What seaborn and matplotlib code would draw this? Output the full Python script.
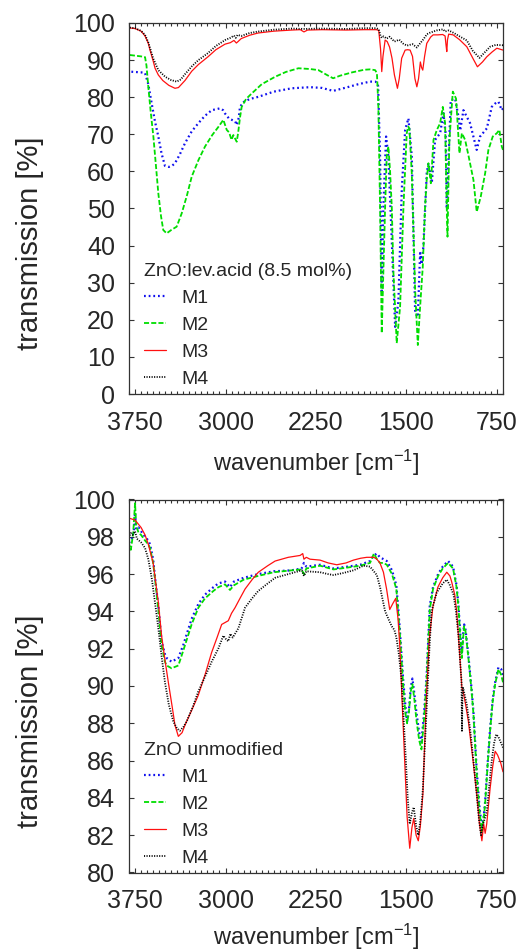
import numpy as np
import pandas as pd
import matplotlib
matplotlib.use("Agg")
import matplotlib.pyplot as plt
from matplotlib.ticker import MultipleLocator
import seaborn as sns

# ---------------- data ----------------
labels = ["M1", "M2", "M3", "M4"]
xticks = [3750, 3000, 2250, 1500, 750]
top_title = "ZnO:lev.acid (8.5 mol%)"
bot_title = "ZnO unmodified"

# top panel: ZnO:lev.acid
top_m1_wn = [3800, 3750, 3700, 3667, 3640, 3612, 3585, 3557, 3530, 3502, 3470, 3440, 3419, 3380, 3336, 3280, 3225, 3170, 3114, 3045, 3020, 3004, 2970, 2948, 2920, 2907, 2890, 2880, 2850, 2800, 2728, 2600, 2451, 2300, 2200, 2108, 2000, 1900, 1802, 1760, 1746, 1735, 1719, 1705, 1692, 1669, 1650, 1622, 1594, 1567, 1539, 1511, 1484, 1456, 1428, 1406, 1387, 1375, 1360, 1332, 1318, 1290, 1263, 1221, 1194, 1175, 1166, 1155, 1133, 1097, 1069, 1055, 1028, 1000, 973, 918, 890, 834, 793, 765, 738, 710, 700]
top_m1_t = [86.9, 86.8, 86.7, 86.5, 83.5, 78.3, 73.5, 69.4, 64.8, 61.5, 61.2, 61.6, 62.2, 64.5, 67.6, 70.8, 73.0, 75.0, 76.5, 77.0, 76.5, 75.6, 74.2, 73.9, 73.5, 72.5, 74.5, 77.4, 78.7, 79.5, 80.1, 81.5, 82.4, 82.7, 82.5, 81.7, 82.6, 83.5, 84.2, 84.2, 84.0, 83.0, 64.0, 27.2, 50.0, 69.4, 64.0, 41.5, 18.1, 25.0, 55.0, 71.2, 74.3, 64.0, 21.8, 20.8, 38.0, 35.0, 39.7, 59.6, 62.2, 56.9, 68.5, 70.3, 75.7, 70.0, 50.0, 60.0, 79.2, 79.6, 74.7, 71.0, 76.5, 74.7, 73.0, 65.8, 69.4, 71.6, 77.4, 78.3, 78.8, 76.5, 77.0]

top_m2_wn = [3800, 3750, 3700, 3667, 3655, 3640, 3620, 3598, 3578, 3557, 3535, 3516, 3488, 3450, 3405, 3363, 3320, 3280, 3225, 3170, 3110, 3059, 3018, 2990, 2970, 2950, 2935, 2920, 2907, 2895, 2880, 2866, 2830, 2783, 2700, 2589, 2500, 2396, 2300, 2230, 2160, 2108, 2050, 1950, 1850, 1802, 1760, 1745, 1733, 1719, 1705, 1692, 1677, 1664, 1650, 1636, 1622, 1608, 1581, 1553, 1525, 1498, 1486, 1476, 1456, 1428, 1406, 1387, 1365, 1346, 1332, 1318, 1298, 1276, 1248, 1221, 1199, 1180, 1166, 1160, 1150, 1144, 1116, 1089, 1061, 1041, 1014, 987, 945, 918, 885, 848, 821, 785, 751, 730, 710, 700]
top_m2_t = [91.4, 91.2, 91.0, 90.8, 88.5, 82.8, 76.0, 69.4, 62.0, 54.1, 48.0, 44.2, 43.3, 44.2, 45.1, 48.7, 53.5, 58.6, 63.0, 66.7, 69.8, 72.0, 73.9, 71.2, 70.5, 68.5, 69.8, 68.8, 68.0, 70.5, 74.5, 77.4, 79.5, 81.0, 83.5, 85.5, 86.8, 87.8, 87.6, 87.3, 86.0, 85.1, 85.8, 86.7, 87.4, 87.5, 87.3, 86.5, 77.4, 50.5, 16.4, 32.6, 50.5, 64.0, 66.7, 60.0, 50.5, 32.6, 13.7, 23.5, 50.5, 70.3, 72.1, 71.6, 59.5, 27.8, 13.2, 23.5, 34.3, 50.5, 58.0, 62.2, 56.8, 68.5, 71.2, 73.0, 77.4, 73.0, 50.0, 42.4, 60.0, 68.5, 81.5, 79.6, 64.9, 70.3, 68.5, 64.4, 57.7, 49.1, 53.1, 59.5, 65.8, 69.4, 70.3, 71.2, 66.7, 65.8]

top_m3_wn = [3800, 3750, 3700, 3667, 3640, 3626, 3600, 3584, 3557, 3520, 3470, 3419, 3390, 3336, 3280, 3225, 3145, 3080, 3004, 2960, 2930, 2910, 2896, 2870, 2800, 2730, 2600, 2450, 2380, 2350, 2320, 2200, 2000, 1850, 1750, 1730, 1715, 1705, 1695, 1677, 1660, 1640, 1620, 1600, 1575, 1560, 1540, 1511, 1490, 1470, 1450, 1430, 1414, 1400, 1385, 1375, 1365, 1350, 1332, 1300, 1279, 1240, 1200, 1180, 1172, 1166, 1160, 1150, 1113, 1060, 1000, 950, 912, 870, 834, 790, 751, 700]
top_m3_t = [98.7, 98.5, 97.8, 96.5, 94.5, 92.7, 89.8, 87.8, 86.0, 84.5, 83.2, 82.4, 82.6, 84.5, 87.0, 88.8, 90.9, 92.8, 94.3, 94.7, 95.3, 94.6, 95.0, 95.8, 96.7, 97.3, 97.8, 98.1, 98.2, 97.6, 98.1, 98.2, 98.1, 98.2, 98.2, 98.0, 93.0, 86.9, 91.0, 95.4, 95.0, 93.5, 90.5, 86.0, 82.4, 85.0, 90.5, 92.7, 92.8, 92.7, 91.0, 85.0, 82.8, 85.0, 89.5, 88.0, 87.3, 91.0, 94.5, 96.2, 96.8, 96.8, 96.9, 96.5, 94.0, 92.3, 95.5, 97.0, 96.8, 95.5, 93.6, 90.5, 88.2, 89.5, 90.9, 92.2, 93.2, 92.7]

top_m4_wn = [3800, 3750, 3700, 3667, 3640, 3626, 3600, 3557, 3500, 3450, 3404, 3370, 3336, 3280, 3225, 3145, 3080, 3004, 2960, 2930, 2915, 2900, 2870, 2800, 2730, 2600, 2450, 2350, 2200, 2000, 1850, 1750, 1730, 1715, 1705, 1690, 1664, 1640, 1600, 1560, 1530, 1497, 1450, 1414, 1395, 1360, 1330, 1304, 1250, 1196, 1180, 1170, 1150, 1113, 1060, 1000, 950, 895, 860, 807, 760, 700]
top_m4_t = [98.8, 98.6, 97.9, 96.8, 94.8, 93.3, 90.5, 87.3, 85.5, 84.6, 84.2, 84.8, 86.2, 88.3, 90.0, 91.9, 93.8, 95.4, 96.0, 96.6, 96.0, 96.8, 96.5, 97.3, 97.7, 98.2, 98.5, 98.4, 98.5, 98.4, 98.6, 98.6, 98.3, 96.5, 96.0, 96.4, 95.8, 96.3, 95.0, 95.5, 94.5, 93.9, 94.3, 93.4, 94.2, 95.6, 97.0, 97.4, 98.0, 98.3, 97.7, 97.8, 98.0, 97.4, 96.4, 95.3, 92.5, 90.6, 91.8, 93.6, 94.1, 94.0]

# bottom panel: ZnO unmodified
bot_m1_wn = [3800, 3780, 3760, 3750, 3740, 3720, 3700, 3667, 3640, 3626, 3600, 3584, 3557, 3530, 3502, 3488, 3447, 3391, 3350, 3281, 3225, 3170, 3100, 3059, 3004, 2963, 2930, 2850, 2730, 2600, 2454, 2370, 2350, 2330, 2216, 2105, 1990, 1884, 1802, 1770, 1745, 1720, 1690, 1663, 1620, 1584, 1556, 1528, 1510, 1495, 1480, 1465, 1451, 1435, 1418, 1395, 1376, 1355, 1334, 1307, 1280, 1238, 1200, 1155, 1114, 1085, 1069, 1050, 1041, 1030, 1022, 1010, 985, 960, 945, 918, 895, 875, 860, 848, 828, 807, 785, 765, 738, 715, 700]
bot_m1_t = [97.7, 97.8, 98.3, 99.3, 98.4, 98.5, 98.3, 98.0, 97.8, 97.6, 96.8, 95.8, 94.3, 92.4, 91.7, 91.5, 91.3, 91.5, 92.2, 93.6, 94.4, 94.9, 95.3, 95.5, 95.6, 95.3, 95.6, 95.8, 96.0, 96.15, 96.2, 96.3, 96.6, 96.4, 96.5, 96.3, 96.4, 96.5, 96.7, 97.0, 97.1, 96.9, 96.8, 96.7, 96.2, 95.4, 93.1, 90.4, 89.0, 88.1, 88.7, 89.9, 90.4, 89.6, 88.6, 87.5, 87.0, 88.5, 90.4, 94.3, 95.3, 96.0, 96.4, 96.7, 96.4, 95.4, 94.3, 92.4, 91.8, 92.8, 93.3, 93.0, 91.5, 89.8, 88.6, 85.5, 83.5, 82.4, 83.0, 83.8, 85.8, 87.7, 89.3, 90.2, 91.0, 90.9, 90.6]

bot_m2_wn = [3800, 3785, 3765, 3750, 3740, 3720, 3700, 3667, 3640, 3626, 3600, 3584, 3557, 3530, 3502, 3488, 3447, 3391, 3350, 3281, 3225, 3170, 3100, 3059, 3004, 2963, 2930, 2850, 2730, 2600, 2454, 2370, 2350, 2330, 2216, 2105, 1990, 1884, 1802, 1770, 1745, 1720, 1690, 1663, 1620, 1584, 1556, 1528, 1510, 1495, 1480, 1465, 1451, 1435, 1418, 1395, 1376, 1355, 1334, 1307, 1280, 1238, 1200, 1155, 1114, 1085, 1069, 1050, 1041, 1030, 1022, 1010, 985, 960, 945, 918, 895, 875, 860, 848, 828, 807, 785, 765, 738, 715, 700]
bot_m2_t = [97.6, 97.3, 98.2, 99.8, 98.6, 98.2, 98.1, 97.8, 97.6, 97.4, 96.6, 95.7, 94.1, 92.2, 91.3, 91.1, 90.95, 91.1, 91.9, 93.3, 94.2, 94.7, 95.1, 95.3, 95.45, 95.15, 95.4, 95.7, 95.9, 96.1, 96.2, 96.25, 96.0, 96.3, 96.45, 96.25, 96.35, 96.45, 96.6, 97.1, 96.8, 96.6, 96.6, 96.5, 96.0, 95.2, 92.9, 90.1, 88.6, 88.0, 88.6, 89.7, 90.1, 89.3, 88.2, 87.1, 86.6, 88.2, 90.2, 94.1, 95.2, 95.9, 96.3, 96.6, 96.3, 95.3, 94.2, 92.2, 91.5, 92.6, 93.2, 92.9, 91.4, 89.7, 88.5, 85.3, 83.3, 82.2, 82.9, 83.7, 85.7, 87.6, 89.2, 90.1, 90.9, 90.6, 90.2]

bot_m3_wn = [3800, 3750, 3700, 3667, 3640, 3600, 3584, 3557, 3530, 3502, 3474, 3440, 3419, 3391, 3360, 3336, 3280, 3226, 3170, 3115, 3070, 3032, 2977, 2950, 2921, 2880, 2838, 2780, 2728, 2650, 2589, 2480, 2382, 2360, 2350, 2330, 2300, 2216, 2150, 2078, 2000, 1940, 1880, 1829, 1770, 1746, 1720, 1691, 1665, 1639, 1615, 1589, 1570, 1556, 1535, 1515, 1495, 1473, 1455, 1440, 1420, 1402, 1385, 1364, 1350, 1334, 1310, 1280, 1240, 1200, 1166, 1140, 1126, 1100, 1084, 1060, 1041, 1030, 1010, 987, 950, 918, 895, 875, 860, 848, 835, 807, 785, 765, 745, 720, 700]
bot_m3_t = [99.0, 98.9, 98.5, 98.1, 97.6, 96.6, 95.8, 94.5, 92.7, 91.4, 90.2, 88.8, 87.9, 87.3, 87.5, 87.9, 88.7, 89.5, 90.6, 91.8, 92.6, 93.3, 93.5, 93.9, 94.2, 94.7, 95.2, 95.7, 96.1, 96.45, 96.7, 96.9, 97.0, 97.1, 96.8, 96.9, 96.8, 96.75, 96.6, 96.5, 96.6, 96.75, 96.85, 96.9, 96.9, 96.8, 96.6, 96.1, 95.2, 94.1, 94.4, 94.7, 93.6, 92.2, 89.0, 86.0, 83.0, 81.3, 82.4, 82.9, 82.0, 81.7, 82.5, 84.2, 86.8, 89.5, 92.6, 94.3, 95.3, 95.8, 96.1, 95.9, 95.6, 94.9, 94.0, 91.8, 89.9, 89.7, 89.0, 88.1, 86.1, 84.2, 82.6, 81.7, 82.6, 82.1, 82.6, 84.5, 85.7, 86.5, 86.3, 85.9, 85.4]

bot_m4_wn = [3800, 3785, 3770, 3750, 3735, 3700, 3667, 3640, 3612, 3585, 3557, 3530, 3502, 3470, 3433, 3400, 3378, 3350, 3322, 3270, 3226, 3170, 3115, 3060, 3018, 2995, 2977, 2960, 2940, 2893, 2838, 2780, 2728, 2650, 2589, 2480, 2368, 2350, 2330, 2216, 2150, 2105, 2030, 1940, 1857, 1802, 1746, 1719, 1700, 1677, 1650, 1622, 1600, 1584, 1565, 1542, 1525, 1505, 1490, 1473, 1455, 1440, 1420, 1402, 1385, 1364, 1350, 1334, 1310, 1292, 1250, 1200, 1166, 1140, 1110, 1090, 1069, 1050, 1044, 1040, 1036, 1030, 1020, 1000, 973, 945, 918, 900, 882, 866, 850, 834, 815, 793, 775, 757, 740, 720, 700]
bot_m4_t = [98.0, 98.2, 98.1, 98.3, 97.9, 97.7, 97.4, 96.8, 95.8, 94.5, 93.1, 91.6, 90.2, 89.0, 88.1, 87.7, 87.6, 87.8, 88.1, 88.9, 89.7, 90.5, 91.3, 92.0, 92.7, 92.5, 92.4, 92.8, 92.6, 93.1, 94.2, 94.7, 95.1, 95.5, 95.8, 96.0, 96.2, 95.9, 96.15, 96.1, 96.0, 95.95, 96.05, 96.2, 96.45, 96.4, 95.95, 95.3, 94.7, 94.0, 93.6, 93.2, 93.0, 92.6, 91.8, 90.4, 88.4, 86.0, 84.0, 82.6, 83.2, 83.5, 82.5, 82.0, 82.8, 84.5, 86.5, 88.6, 92.0, 94.0, 95.0, 95.5, 95.7, 95.4, 94.9, 94.0, 92.7, 90.8, 90.3, 87.6, 89.7, 89.9, 89.6, 89.0, 87.7, 86.0, 84.2, 82.9, 82.0, 82.6, 82.9, 83.3, 84.6, 86.0, 86.9, 87.4, 87.3, 87.0, 86.7]

# ---------------- styling ----------------
sns.set_style("ticks")
plt.rcParams["font.family"] = ["Liberation Sans", "DejaVu Sans"]
plt.rcParams["mathtext.fontset"] = "custom"
plt.rcParams["mathtext.rm"] = "Liberation Sans"
plt.rcParams["mathtext.it"] = "Liberation Sans"
plt.rcParams["mathtext.default"] = "regular"

colors = ["#1010ee", "#00dd00", "#ff1010", "#000000"]
styles = [(0, (0.8, 1.3)), (0, (2.8, 1.2)), "-", (0, (0.6, 0.8))]
widths = [1.6, 1.3, 0.9, 1.3]

fig = plt.figure(figsize=(5.23, 9.52), dpi=100)
ax1 = fig.add_axes([129 / 523, 1 - 394 / 952, 374 / 523, 371 / 952])
ax2 = fig.add_axes([129 / 523, 1 - 872.5 / 952, 374 / 523, 373 / 952])

panels = [
    (ax1, [(top_m1_wn, top_m1_t), (top_m2_wn, top_m2_t), (top_m3_wn, top_m3_t), (top_m4_wn, top_m4_t)],
     (0, 100), np.arange(0, 101, 10), top_title, -0.186),
    (ax2, [(bot_m1_wn, bot_m1_t), (bot_m2_wn, bot_m2_t), (bot_m3_wn, bot_m3_t), (bot_m4_wn, bot_m4_t)],
     (80, 100), np.arange(80, 101, 2), bot_title, -0.172),
]

for ax, series, ylim, yt, title, xly in panels:
    for (wn, t), lab, c, ls, lw in zip(series, labels, colors, styles, widths):
        df = pd.DataFrame({"wavenumber": wn, "transmission": t})
        sns.lineplot(data=df, x="wavenumber", y="transmission", ax=ax, color=c,
                     linestyle=ls, linewidth=lw, label=lab, estimator=None)
    ax.set_xlim(3800, 700)
    ax.set_ylim(*ylim)
    ax.set_xticks(xticks)
    ax.set_yticks(yt)
    ax.xaxis.set_minor_locator(MultipleLocator(50))
    ax.tick_params(which="both", direction="in", top=True, right=True,
                   color="#333333", width=0.8)
    ax.tick_params(which="major", length=3.8, labelsize=18, pad=10)
    ax.tick_params(axis="x", which="major", pad=12)
    ax.tick_params(which="minor", length=1.9)
    for sp in ax.spines.values():
        sp.set_color("#333333")
        sp.set_linewidth(0.9)
    ax.set_xlabel(r"wavenumber [cm$^{-1}$]", fontsize=17)
    ax.set_ylabel("transmission [%]", fontsize=21)
    ax.yaxis.set_label_coords(-0.265, 0.405)
    ax.yaxis.label.set_verticalalignment("center")
    ax.xaxis.set_label_coords(0.5, xly)
    ax.xaxis.label.set_verticalalignment("center")
    leg = ax.legend(title=title, loc="lower left", bbox_to_anchor=(0.04, 0.016),
                    frameon=False, fontsize=14, title_fontsize=14, handlelength=1.15,
                    handletextpad=0.75, labelspacing=0.48, borderpad=0.0,
                    borderaxespad=0.0, alignment="left")

fig.savefig("out.png", dpi=100)
